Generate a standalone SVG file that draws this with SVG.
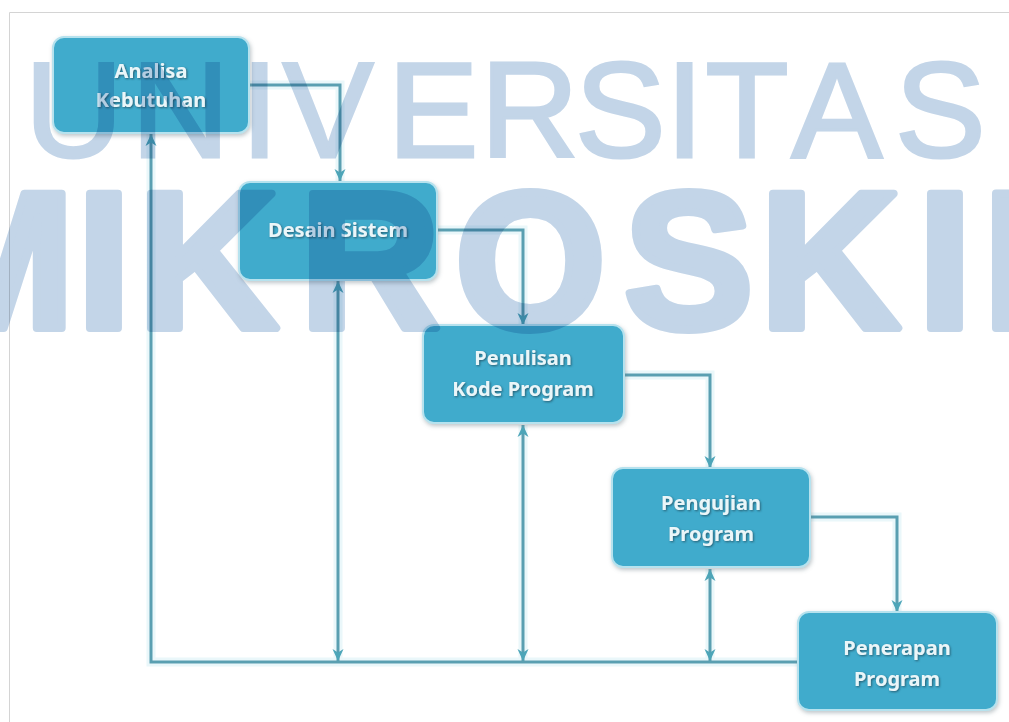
<svg xmlns="http://www.w3.org/2000/svg" xmlns:xlink="http://www.w3.org/1999/xlink" width="1009" height="722" viewBox="0 0 1009 722">
  <style>
    .frame { stroke: #d4d4d4; stroke-width: 1; fill: none; }
    .box { fill: #40abcc; stroke: #b6e2ee; stroke-width: 2; filter: url(#boxShadow); }
    .label { font-family: "Noto Sans", "Open Sans", sans-serif; font-size: 20px; font-weight: 700; fill: #eaf6f9; text-anchor: middle; filter: url(#textShadow); }
    .halo { fill: none; stroke: #eaf7fa; stroke-width: 9; stroke-linejoin: miter; }
    .wire { fill: none; stroke: #5a9fb1; stroke-width: 3; stroke-linejoin: miter; }
    .wm { fill: #c3d5e8; stroke: #c3d5e8; mix-blend-mode: multiply; }
    .wm1 { font-family: "Liberation Sans", Arial, sans-serif; font-size: 136px; font-weight: 400; stroke-width: 3; }
    .wm2 { font-family: "Liberation Sans", Arial, sans-serif; font-size: 194px; font-weight: 700; stroke-width: 8; stroke-linejoin: round; }
  </style>
  <defs>
    <filter id="boxShadow" x="-10%" y="-10%" width="125%" height="130%">
      <feDropShadow dx="1" dy="2" stdDeviation="2" flood-color="#6a7f86" flood-opacity="0.45"/>
    </filter>
    <filter id="textShadow" x="-10%" y="-30%" width="120%" height="160%">
      <feDropShadow dx="1" dy="1" stdDeviation="0.8" flood-color="#1d4f60" flood-opacity="0.85"/>
    </filter>
    <marker id="arrow" viewBox="0 0 12 12" markerWidth="12" markerHeight="12" refX="12" refY="6" orient="auto-start-reverse" markerUnits="userSpaceOnUse">
      <path d="M0,0.5 L12,6 L0,11.5 L3.5,6 Z" fill="#4da5b8"/>
    </marker>
    <!-- connector geometry, drawn twice: soft halo then the line itself -->
    <path id="p1" d="M249,85 H340 V181"/>
    <path id="p2" d="M437,230 H523 V325"/>
    <path id="p3" d="M624,375 H710 V468"/>
    <path id="p4" d="M810,517 H897 V612"/>
    <path id="pBack" d="M798,662 H151 V134"/>
    <path id="pV1" d="M338,661 V281"/>
    <path id="pV2" d="M523,661 V425"/>
    <path id="pV3" d="M710,661 V569"/>
  </defs>

  <rect x="0" y="0" width="1009" height="722" fill="#ffffff"/>
  <path class="frame" d="M9.5,722 V12.5 H1009"/>

  <g id="connectors">
    <g class="halo">
      <use xlink:href="#p1"/><use xlink:href="#p2"/><use xlink:href="#p3"/><use xlink:href="#p4"/>
      <use xlink:href="#pBack"/><use xlink:href="#pV1"/><use xlink:href="#pV2"/><use xlink:href="#pV3"/>
    </g>
    <g class="wire">
      <use xlink:href="#p1" marker-end="url(#arrow)"/>
      <use xlink:href="#p2" marker-end="url(#arrow)"/>
      <use xlink:href="#p3" marker-end="url(#arrow)"/>
      <use xlink:href="#p4" marker-end="url(#arrow)"/>
      <use xlink:href="#pBack" marker-end="url(#arrow)"/>
      <use xlink:href="#pV1" marker-start="url(#arrow)" marker-end="url(#arrow)"/>
      <use xlink:href="#pV2" marker-start="url(#arrow)" marker-end="url(#arrow)"/>
      <use xlink:href="#pV3" marker-start="url(#arrow)" marker-end="url(#arrow)"/>
    </g>
  </g>

  <g id="analisa-kebutuhan">
    <rect class="box" x="53" y="37" width="196" height="96" rx="11"/>
    <text class="label" x="151" y="78">Analisa</text>
    <text class="label" x="151" y="107">Kebutuhan</text>
  </g>

  <g id="desain-sistem">
    <rect class="box" x="239" y="182" width="198" height="98" rx="11"/>
    <text class="label" x="338" y="237">Desain Sistem</text>
  </g>

  <g id="penulisan-kode-program">
    <rect class="box" x="423" y="325" width="201" height="98" rx="11"/>
    <text class="label" x="523" y="365">Penulisan</text>
    <text class="label" x="523" y="396">Kode Program</text>
  </g>

  <g id="pengujian-program">
    <rect class="box" x="612" y="468" width="198" height="99" rx="11"/>
    <text class="label" x="711" y="510">Pengujian</text>
    <text class="label" x="711" y="541">Program</text>
  </g>

  <g id="penerapan-program">
    <rect class="box" x="798" y="612" width="199" height="98" rx="11"/>
    <text class="label" x="897" y="655">Penerapan</text>
    <text class="label" x="897" y="686">Program</text>
  </g>

  <!-- institution watermark laid over the chart -->
  <g id="watermark" class="wm">
    <text class="wm1" y="156.5" x="24.8 131.2 240.7 282.8 387.8 480.5 575.1 665.7 705.5 791.5 895.1">UNIVERSITAS</text>
    <text class="wm2" y="328" x="-87 77 138 300 455 624 760 918 983">MIKROSKIL</text>
  </g>
</svg>
